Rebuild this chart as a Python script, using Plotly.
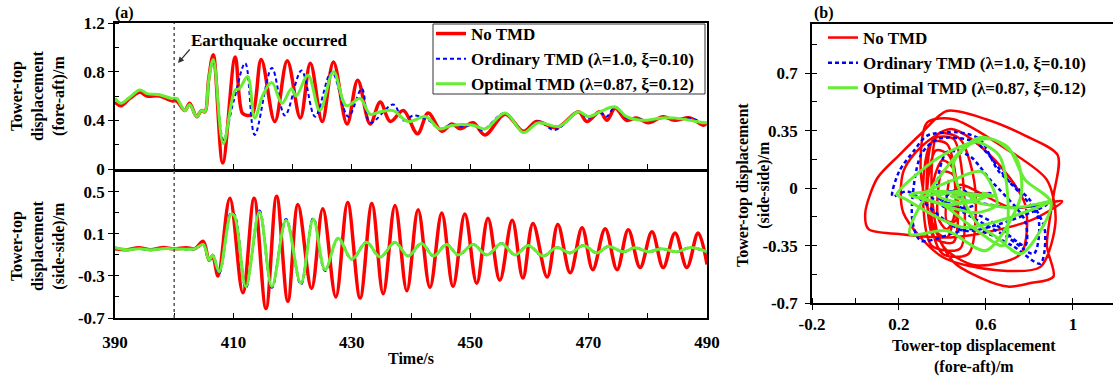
import plotly.graph_objects as go

# ---------------- data: fore-aft (top-left) ----------------
t_fa_red = [390, 391, 392.5, 394.2, 395.4, 397.5, 399.6, 400.4, 401.8, 402.6, 403.8, 404.6, 405.2, 405.8, 406.6,
            408.2, 410.3, 411.5, 412.3, 413.2, 414.7, 417.0, 419.1, 421.3, 423.0, 425.0, 426.9, 429.2, 431.0,
            433.1, 434.8, 436.5, 438.7, 441.1, 442.9, 445.2, 446.9, 448.3, 450.5, 452.5, 455.9, 459.0, 461.2,
            464.6, 468.3, 469.7, 471.9, 473.1, 474.5, 476.4, 478.1, 480.1, 482.6, 484.5, 487.1, 489.4, 490]
v_fa_red = [0.55, 0.52, 0.58, 0.63, 0.60, 0.60, 0.56, 0.56, 0.48, 0.54, 0.43, 0.48, 0.47, 0.73, 0.94,
            0.05, 0.92, 0.46, 0.44, 0.45, 0.90, 0.39, 0.89, 0.42, 0.87, 0.39, 0.88, 0.37, 0.73,
            0.37, 0.55, 0.39, 0.48, 0.29, 0.46, 0.31, 0.37, 0.33, 0.38, 0.28, 0.45, 0.31, 0.39,
            0.34, 0.47, 0.39, 0.47, 0.40, 0.50, 0.40, 0.42, 0.38, 0.43, 0.40, 0.42, 0.36, 0.38]

t_fa_blue = [390, 391, 392.5, 394.2, 395.4, 397.5, 399.6, 400.4, 401.8, 402.6, 403.8, 404.6, 405.2, 405.8, 406.6,
             408.3, 410.0, 412.0, 413.6, 416.5, 418.7, 421.5, 423.8, 426.6, 429.4, 431.7, 433.1, 437.0, 438.7,
             440.5, 443.0, 444.8, 447.0, 448.5, 450.5, 452.0, 455.9, 459.0, 461.5, 464.3, 468.3, 470.0, 471.9,
             473.0, 474.5, 476.4, 478.5, 480.0, 482.6, 485.0, 487.1, 489.4, 490]
v_fa_blue = [0.58, 0.54, 0.59, 0.65, 0.62, 0.61, 0.58, 0.58, 0.48, 0.53, 0.43, 0.48, 0.47, 0.72, 0.88,
             0.24, 0.55, 0.87, 0.28, 0.83, 0.44, 0.81, 0.43, 0.80, 0.43, 0.66, 0.38, 0.53, 0.40,
             0.44, 0.40, 0.33, 0.37, 0.35, 0.36, 0.32, 0.46, 0.30, 0.39, 0.32, 0.47, 0.42, 0.47,
             0.43, 0.51, 0.42, 0.41, 0.40, 0.42, 0.41, 0.42, 0.38, 0.38]

t_fa_green = [390, 391, 392.5, 394.2, 395.4, 397.5, 399.6, 400.4, 401.8, 402.6, 403.8, 404.6, 405.2, 405.8, 406.6,
              408.3, 410.3, 411.0, 412.4, 413.6, 415.0, 416.5, 418.2, 419.8, 420.6, 422.6, 424.6, 426.9, 429.1,
              431.4, 433.1, 434.8, 437.0, 439.5, 442.5, 444.8, 447.0, 450.5, 452.5, 455.9, 459.0, 461.5, 465.0,
              468.3, 470.0, 471.9, 474.5, 476.4, 479.0, 482.6, 486.0, 489.4, 490]
v_fa_green = [0.58, 0.54, 0.59, 0.65, 0.62, 0.61, 0.58, 0.58, 0.48, 0.53, 0.43, 0.48, 0.47, 0.72, 0.90,
              0.21, 0.65, 0.66, 0.76, 0.42, 0.61, 0.71, 0.54, 0.66, 0.60, 0.77, 0.48, 0.80, 0.52,
              0.58, 0.45, 0.47, 0.48, 0.39, 0.43, 0.33, 0.36, 0.36, 0.33, 0.46, 0.30, 0.38, 0.35,
              0.47, 0.43, 0.47, 0.51, 0.43, 0.40, 0.42, 0.41, 0.38, 0.38]

# ---------------- data: side-side (bottom-left) ----------------
t_ss_red = [390, 392, 394, 396, 398, 400, 402, 403.5, 404.9, 405.9, 406.5, 407.4, 409.4, 411.6, 413.5, 415.5,
            417.3, 419.2, 420.9, 423.2, 425.1, 427.3, 429.3, 431.4, 433.4, 435.3, 437.3, 439.3, 441.2, 443.2,
            445.2, 447.1, 449.1, 451.1, 453.0, 455.0, 457.1, 458.9, 460.6, 463.0, 464.8, 466.9, 468.9, 470.7,
            472.8, 474.8, 476.7, 478.7, 480.7, 482.6, 484.6, 486.6, 488.5, 490]
v_ss_red = [-0.04, -0.05, -0.03, -0.05, -0.03, -0.04, -0.03, -0.04, 0.03, -0.15, -0.11, -0.30, 0.44, -0.46, 0.44, -0.61,
            0.46, -0.54, 0.38, -0.42, 0.34, -0.50, 0.40, -0.51, 0.39, -0.47, 0.37, -0.44, 0.33, -0.41,
            0.30, -0.40, 0.29, -0.37, 0.25, -0.34, 0.23, -0.32, 0.20, -0.31, 0.19, -0.27, 0.16, -0.24,
            0.15, -0.24, 0.14, -0.22, 0.12, -0.22, 0.11, -0.22, 0.11, -0.19]

t_ss_blue = [390, 392, 394, 396, 398, 400, 403.5, 404.9, 405.9, 406.5, 407.6, 409.6, 410.2, 412.1, 414.4, 416.5,
             418.9, 421.4, 423.5, 425.5, 427.7, 430.0, 432.5, 434.8, 437.3, 439.5, 441.8, 443.8, 446.0, 448.0,
             450.5, 452.8, 455.3, 457.6, 459.8, 462.3, 464.6, 466.9, 469.1, 471.4, 473.3, 475.9, 477.8, 480.1,
             482.3, 484.9, 487.1, 490]
v_ss_blue = [-0.03, -0.05, -0.04, -0.05, -0.04, -0.04, -0.04, 0.0, -0.15, -0.10, -0.27, 0.30, 0.28, -0.41, 0.32, -0.41,
             0.24, -0.38, 0.25, -0.25, 0.06, -0.14, 0.02, -0.12, 0.02, -0.11, 0.01, -0.11, 0.0, -0.10,
             0.0, -0.10, 0.01, -0.10, -0.01, -0.11, -0.03, -0.08, -0.01, -0.08, -0.02, -0.07, -0.03, -0.07,
             -0.04, -0.07, -0.03, -0.07]

t_ss_green = t_ss_blue
v_ss_green = [-0.03, -0.05, -0.04, -0.05, -0.04, -0.04, -0.04, 0.0, -0.15, -0.10, -0.26, 0.29, 0.27, -0.40, 0.31, -0.40,
              0.23, -0.37, 0.24, -0.24, 0.06, -0.14, 0.02, -0.12, 0.02, -0.11, 0.01, -0.11, 0.0, -0.10,
              0.0, -0.10, 0.01, -0.10, -0.01, -0.11, -0.03, -0.08, -0.01, -0.08, -0.02, -0.07, -0.03, -0.07,
              -0.04, -0.07, -0.03, -0.07]

# ---------------- data: trajectory (right panel) ----------------
fa_red = [0.56, 0.62, 0.58, 0.52, 0.45, 0.48, 0.72, 0.95, 0.80, 0.45, 0.20, 0.06, 0.045, 0.10, 0.20, 0.30,
          0.42, 0.60, 0.78, 0.93, 0.91, 0.88, 0.91, 0.80, 0.70, 0.58, 0.45, 0.35, 0.30, 0.33, 0.45, 0.68,
          0.88, 0.92, 0.85, 0.65, 0.40, 0.22, 0.22, 0.30, 0.44, 0.62, 0.78, 0.76, 0.55, 0.40, 0.35, 0.38,
          0.48, 0.55, 0.52, 0.40, 0.33, 0.36, 0.45, 0.50, 0.48, 0.35, 0.31, 0.35, 0.42, 0.47, 0.45, 0.36,
          0.33, 0.37, 0.43, 0.46, 0.42, 0.36, 0.36, 0.40, 0.45, 0.46, 0.42, 0.38, 0.40, 0.45, 0.46, 0.42, 0.43]
ss_red = [-0.04, -0.03, -0.05, -0.03, -0.05, 0.02, -0.12, -0.08, -0.20, -0.30, -0.28, -0.25, -0.15, 0.06, 0.20, 0.33,
          0.47, 0.42, 0.32, 0.20, -0.05, -0.35, -0.54, -0.58, -0.60, -0.55, -0.45, -0.20, 0.10, 0.40, 0.42, 0.25,
          0.05, -0.20, -0.48, -0.50, -0.42, -0.15, 0.10, 0.25, 0.36, 0.20, -0.10, -0.40, -0.47, -0.35, 0.0, 0.33,
          0.30, 0.0, -0.40, -0.40, -0.10, 0.30, 0.30, -0.05, -0.37, -0.35, 0.0, 0.28, 0.27, -0.05, -0.33, -0.30,
          0.0, 0.23, 0.20, -0.10, -0.30, -0.25, 0.05, 0.17, 0.12, -0.15, -0.25, -0.18, 0.10, 0.08, -0.20, -0.20, 0.05]

fa_blue = [0.58, 0.62, 0.50, 0.45, 0.72, 0.88, 0.50, 0.24, 0.17, 0.20, 0.27, 0.33, 0.47, 0.57, 0.66, 0.80,
           0.87, 0.85, 0.72, 0.54, 0.30, 0.26, 0.30, 0.38, 0.55, 0.70, 0.84, 0.82, 0.70, 0.50, 0.38, 0.42,
           0.52, 0.62, 0.78, 0.78, 0.62, 0.45, 0.40, 0.48, 0.55, 0.42, 0.35, 0.45, 0.50, 0.40]
ss_blue = [-0.04, -0.03, -0.04, -0.05, -0.12, -0.10, -0.26, -0.02, -0.05, 0.10, 0.23, 0.32, 0.34, 0.30, 0.10, -0.07,
           -0.25, -0.46, -0.35, -0.25, -0.32, -0.18, 0.20, 0.30, 0.28, 0.05, -0.18, -0.40, -0.30, -0.15, -0.05, 0.22,
           0.20, 0.05, -0.20, -0.35, -0.20, -0.10, -0.08, 0.0, -0.10, -0.12, -0.05, -0.02, -0.08, -0.10]

fa_green = [0.58, 0.64, 0.50, 0.44, 0.72, 0.90, 0.50, 0.22, 0.19, 0.40, 0.62, 0.74, 0.76, 0.60, 0.42, 0.25,
            0.30, 0.50, 0.58, 0.70, 0.78, 0.90, 0.76, 0.65, 0.55, 0.45, 0.55, 0.66, 0.70, 0.68, 0.55, 0.40,
            0.30, 0.45, 0.58, 0.65, 0.55, 0.35, 0.25, 0.40, 0.55, 0.45, 0.30, 0.42, 0.60, 0.50, 0.38, 0.48, 0.55]
ss_green = [-0.03, -0.05, -0.04, -0.05, -0.12, -0.08, -0.24, -0.06, -0.04, 0.20, 0.30, 0.18, -0.05, -0.38, -0.26, -0.28,
            -0.10, 0.25, 0.31, 0.25, 0.05, -0.09, -0.40, -0.30, -0.20, 0.15, 0.28, 0.20, -0.05, -0.35, -0.25, -0.10,
            -0.05, 0.05, 0.10, -0.10, -0.15, -0.08, -0.04, -0.02, -0.06, -0.10, -0.06, -0.03, -0.05, -0.09, -0.05, -0.02, -0.07]

names = ["No TMD", "Ordinary TMD (λ=1.0, ξ=0.10)", "Optimal TMD (λ=0.87, ξ=0.12)"]
RED, BLUE, GREEN = "#FF0000", "#0000FF", "#66EE33"
FONT = "Liberation Serif"
W, H = 1113, 378

fig = go.Figure()

def add(x, y, color, width, dash, xa, ya, name, show, legend="legend", smooth=1.0):
    fig.add_trace(go.Scatter(
        x=x, y=y, mode="lines", name=name, showlegend=show, legend=legend,
        line=dict(color=color, width=width, dash=dash, shape="spline", smoothing=smooth),
        xaxis=xa, yaxis=ya, hoverinfo="skip"))

# top-left
add(t_fa_red, v_fa_red, RED, 3.5, "solid", "x", "y", names[0], True)
add(t_fa_blue, v_fa_blue, BLUE, 2, "4px,3px", "x", "y", names[1], True)
add(t_fa_green, v_fa_green, GREEN, 3, "solid", "x", "y", names[2], True)
# bottom-left
add(t_ss_red, v_ss_red, RED, 3.5, "solid", "x2", "y2", names[0], False)
add(t_ss_blue, v_ss_blue, BLUE, 2.5, "4px,3px", "x2", "y2", names[1], False)
add(t_ss_green, v_ss_green, GREEN, 3, "solid", "x2", "y2", names[2], False)
# right
add(fa_red, ss_red, RED, 2.5, "solid", "x3", "y3", names[0], True, "legend2", 0.8)
add(fa_blue, ss_blue, BLUE, 2.5, "4px,3px", "x3", "y3", names[1], True, "legend2", 0.8)
add(fa_green, ss_green, GREEN, 3, "solid", "x3", "y3", names[2], True, "legend2", 0.8)

tickfont = dict(family=FONT, size=17, color="black", weight="bold")
common = dict(showgrid=False, zeroline=False, showline=True, linecolor="black", linewidth=1.5,
              tickfont=tickfont, tickcolor="black", tickwidth=1.2, automargin=False)

left_dom = [115 / W, 707 / W]
xt = [390, 410, 430, 450, 470, 490]
fig.update_layout(
    width=W, height=H, margin=dict(l=0, r=0, t=0, b=0, pad=0, autoexpand=False),
    paper_bgcolor="white", plot_bgcolor="white", template="none",
    font=dict(family=FONT, size=17, color="black", weight="bold"),
    xaxis=dict(domain=left_dom, anchor="y", range=[390, 490], tickmode="array", tickvals=xt,
               showticklabels=False, ticks="inside", ticklen=5, mirror=True,
               minor=dict(ticks="inside", ticklen=5, tick0=390, dtick=10, tickcolor="black"), **common),
    yaxis=dict(domain=[1 - 169 / H, 1 - 23 / H], anchor="x", range=[0, 1.2], tickmode="array",
               tickvals=[0, 0.4, 0.8, 1.2], ticktext=["0", "0.4", "0.8", "1.2"],
               ticks="outside", ticklen=5, mirror=True,
               minor=dict(ticks="inside", ticklen=4, tick0=0, dtick=0.2, tickcolor="black"), **common),
    xaxis2=dict(domain=left_dom, anchor="y2", range=[390, 490], tickmode="array", tickvals=xt,
                ticktext=[str(v) for v in xt], ticks="inside", ticklen=5, mirror=True,
                ticklabelstandoff=8,
                minor=dict(ticks="inside", ticklen=5, tick0=390, dtick=10, tickcolor="black"), **common),
    yaxis2=dict(domain=[1 - 318 / H, 1 - 172 / H], anchor="x2", range=[-0.7, 0.69], tickmode="array",
                tickvals=[-0.7, -0.3, 0.1, 0.5], ticktext=["-0.7", "-0.3", "0.1", "0.5"],
                ticks="outside", ticklen=5, mirror=True,
                minor=dict(ticks="inside", ticklen=4, tick0=-0.7, dtick=0.2, tickcolor="black"), **common),
    xaxis3=dict(domain=[812 / W, 1.0], anchor="y3", range=[-0.2, 1.184], tickmode="array",
                tickvals=[-0.2, 0.2, 0.6, 1.0], ticktext=["-0.2", "0.2", "0.6", "1"],
                ticks="outside", ticklen=5, mirror=True, ticklabelstandoff=0,
                minor=dict(ticks="inside", ticklen=5, tick0=-0.2, dtick=0.2, tickcolor="black"), **common),
    yaxis3=dict(domain=[1 - 303 / H, 1 - 24 / H], anchor="x3", range=[-0.7, 1.0], tickmode="array",
                tickvals=[-0.7, -0.35, 0, 0.35, 0.7], ticktext=["-0.7", "-0.35", "0", "0.35", "0.7"],
                ticks="outside", ticklen=5, ticklabelstandoff=4,
                minor=dict(ticks="inside", ticklen=5, tick0=-0.7, dtick=0.175, tickcolor="black"), **common),
    legend=dict(x=431 / W, y=1 - 16 / H, xanchor="left", yanchor="top",
                bgcolor="rgba(0,0,0,0)", borderwidth=0,
                font=dict(family=FONT, size=17, color="black", weight="bold"),
                itemwidth=30, tracegroupgap=0),
    legend2=dict(x=823 / W, y=1 - 20 / H, xanchor="left", yanchor="top",
                 bgcolor="rgba(0,0,0,0)", borderwidth=0,
                 font=dict(family=FONT, size=17, color="black", weight="bold"),
                 itemwidth=30, tracegroupgap=0),
)

# legend frame of panel (a)
fig.add_shape(type="rect", xref="paper", yref="paper", x0=433 / W, x1=705 / W,
              y0=1 - 94 / H, y1=1 - 24 / H, line=dict(color="#333", width=1),
              fillcolor="white", layer="below")

# vertical dotted line: earthquake start
fig.add_shape(type="line", xref="x", yref="paper", x0=400, x1=400,
              y0=1 - 318 / H, y1=1 - 23 / H, line=dict(color="#555", width=1.5, dash="dot"))

def f(sz):
    return dict(family=FONT, size=sz, color="black", weight="bold")
ann = [
    dict(text="(a)", x=113 / W, y=1 - 13 / H, xanchor="left", yanchor="middle", font=f(16)),
    dict(text="(b)", x=812 / W, y=1 - 13 / H, xanchor="left", yanchor="middle", font=f(16)),
    dict(text="Earthquake occurred", x=189 / W, y=1 - 40 / H, xanchor="left", yanchor="middle", font=f(17)),
    dict(text="Tower-top<br>displacement<br>(fore-aft)/m", x=38 / W, y=1 - 96 / H, textangle=-90,
         xanchor="center", yanchor="middle", font=f(16)),
    dict(text="Tower-top<br>displacement<br>(side-side)/m", x=38 / W, y=1 - 246 / H, textangle=-90,
         xanchor="center", yanchor="middle", font=f(16)),
    dict(text="Tower-top displacement<br>(side-side)/m", x=753 / W, y=1 - 185 / H, textangle=-90,
         xanchor="center", yanchor="middle", font=f(16)),
    dict(text="Tower-top displacement<br>(fore-aft)/m", x=974 / W, y=1 - 356 / H,
         xanchor="center", yanchor="middle", font=f(16)),
    dict(text="Time/s", x=411 / W, y=1 - 358 / H, xanchor="center", yanchor="middle", font=f(16)),
]
for a in ann:
    fig.add_annotation(xref="paper", yref="paper", showarrow=False, **a)

# arrow pointing to the earthquake line
fig.add_annotation(xref="paper", yref="paper", x=178 / W, y=1 - 63 / H, ax=13, ay=-15,
                   axref="pixel", ayref="pixel", text="", showarrow=True,
                   arrowhead=2, arrowsize=1, arrowwidth=1.2, arrowcolor="#333")

fig.write_html("out.html")
